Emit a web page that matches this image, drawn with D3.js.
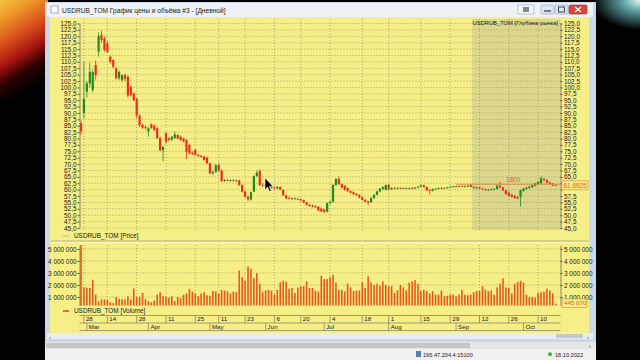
<!DOCTYPE html>
<html>
<head>
<meta charset="utf-8">
<script src="https://cdn.jsdelivr.net/npm/d3@7"></script>
<style>
  body { margin: 0; background: #000; }
  svg { display: block; font-family: "Liberation Sans", Arial, sans-serif; }
</style>
</head>
<body>
<svg id="chart" width="640" height="360"></svg>
<script>
// USDRUB_TOM daily candles
const opens = [
  86.0, 90.0, 98.3, 101.6, 99.0, 108.8, 114.0, 120.5, 119.2, 117.2,
  112.0, 110.7, 107.5, 103.6, 102.9, 104.8, 104.2, 100.3, 97.7, 95.5,
  89.0, 85.3, 84.2, 82.8, 85.5, 85.0, 84.0, 80.2, 75.4, 82.0,
  80.0, 79.6, 80.2, 81.4, 80.7, 80.0, 79.4, 77.5, 74.5, 75.5,
  73.6, 73.2, 72.9, 72.5, 70.3, 66.4, 67.0, 69.6, 67.5, 63.4,
  63.8, 63.5, 63.7, 63.4, 63.6, 61.8, 59.2, 57.2, 56.2, 59.2,
  65.3, 67.3, 61.8, 61.6, 61.6, 61.2, 60.8, 60.5, 61.0, 59.9,
  57.8, 56.8, 56.5, 56.6, 56.4, 56.3, 55.9, 55.0, 54.1, 53.8,
  53.5, 53.3, 52.6, 52.2, 51.4, 54.7, 55.3, 61.8, 64.2, 62.2,
  61.5, 60.6, 59.4, 59.0, 58.4, 57.9, 57.0, 56.0, 55.5, 55.0,
  56.7, 58.0, 59.3, 60.2, 59.9, 61.8, 60.1, 60.6, 60.4, 60.7,
  60.5, 60.6, 60.4, 60.6, 60.5, 60.8, 61.2, 61.7, 61.0, 59.8,
  59.6, 60.2, 60.4, 60.6, 60.5, 60.7, 60.9, 61.1, 61.3, 61.2,
  61.4, 61.2, 61.3, 61.8, 61.1, 60.6, 60.9, 60.4, 60.1, 59.9,
  60.0, 60.2, 60.3, 61.5, 60.9, 59.7, 58.8, 58.0, 57.6, 57.0,
  57.2, 59.5, 60.3, 60.6, 61.0, 61.5, 62.1, 62.5, 64.2, 63.8,
  62.8, 62.3, 61.7
];
const highs = [
  87.0, 110.0, 102.5, 109.5, 107.0, 110.5, 121.5, 122.0, 120.0, 118.0,
  112.5, 111.0, 108.0, 106.5, 105.0, 105.5, 104.8, 100.8, 98.0, 96.0,
  89.5, 85.8, 85.0, 84.5, 86.0, 85.5, 84.5, 80.8, 77.0, 82.5,
  80.5, 81.0, 82.7, 81.8, 81.2, 80.3, 79.8, 77.8, 75.0, 76.0,
  74.0, 73.6, 73.2, 73.0, 70.5, 67.3, 70.0, 70.5, 68.0, 64.2,
  64.2, 64.0, 64.1, 63.9, 64.0, 62.1, 59.6, 57.6, 59.2, 65.6,
  67.5, 68.0, 62.5, 62.2, 62.0, 61.5, 61.3, 61.4, 61.3, 60.2,
  58.0, 57.4, 57.0, 57.0, 56.9, 56.5, 56.1, 55.3, 54.5, 54.2,
  53.9, 53.6, 53.0, 52.6, 55.0, 55.8, 62.2, 64.5, 65.2, 62.5,
  61.8, 61.0, 59.7, 59.3, 58.7, 58.2, 57.3, 56.3, 55.7, 57.0,
  58.2, 59.5, 60.6, 61.3, 62.0, 62.3, 61.0, 61.0, 60.9, 61.0,
  60.9, 60.9, 60.8, 61.0, 61.0, 61.4, 62.0, 61.9, 61.2, 60.2,
  60.5, 60.7, 60.9, 61.0, 60.9, 61.1, 61.3, 61.5, 61.6, 61.6,
  61.7, 61.6, 61.8, 62.2, 61.4, 61.2, 61.2, 60.8, 60.5, 60.3,
  60.4, 60.6, 62.0, 63.3, 61.1, 60.0, 59.3, 58.3, 57.9, 57.5,
  60.0, 60.7, 61.0, 61.5, 61.9, 62.6, 63.3, 65.1, 64.6, 64.1,
  63.2, 62.6, 62.0
];
const lows = [
  81.5, 88.0, 96.0, 100.0, 98.0, 103.0, 112.0, 117.5, 114.0, 113.5,
  109.3, 107.5, 103.0, 102.8, 102.0, 102.5, 96.0, 96.5, 94.5, 88.0,
  84.5, 83.8, 83.5, 80.7, 83.8, 83.0, 79.8, 75.0, 71.0, 78.0,
  79.0, 79.0, 79.8, 79.8, 79.2, 78.5, 72.0, 73.8, 73.5, 73.2,
  72.8, 72.5, 71.3, 70.0, 66.0, 65.8, 66.5, 67.0, 63.0, 63.0,
  63.3, 63.1, 63.2, 63.0, 61.5, 59.0, 56.8, 55.6, 55.8, 59.0,
  65.0, 61.5, 61.2, 61.0, 60.8, 60.5, 60.2, 60.2, 59.8, 57.5,
  56.3, 56.2, 56.0, 56.1, 55.9, 55.5, 54.8, 53.8, 53.3, 53.1,
  52.8, 51.6, 51.2, 50.8, 51.0, 54.2, 55.0, 61.5, 61.8, 60.5,
  59.6, 59.2, 58.6, 58.0, 57.6, 56.6, 55.7, 55.0, 54.0, 54.8,
  56.4, 57.8, 59.0, 59.8, 59.7, 59.8, 59.9, 60.2, 60.1, 60.3,
  60.2, 60.2, 60.1, 60.3, 60.2, 60.5, 61.0, 60.8, 59.5, 58.0,
  59.3, 59.9, 60.1, 60.2, 60.2, 60.4, 60.6, 60.8, 60.9, 60.9,
  61.0, 60.9, 61.0, 60.9, 60.4, 60.3, 60.2, 59.8, 59.7, 59.5,
  59.6, 59.8, 60.0, 60.6, 59.4, 58.0, 57.3, 56.9, 56.5, 56.2,
  53.3, 59.2, 60.0, 60.4, 60.8, 61.3, 61.9, 62.3, 63.3, 62.5,
  62.0, 61.4, 61.5
];
const closes = [
  82.8, 95.5, 101.6, 106.1, 106.0, 104.8, 120.0, 118.5, 114.6, 114.0,
  110.0, 108.1, 103.6, 106.1, 104.8, 103.3, 96.8, 97.0, 95.1, 89.0,
  85.3, 84.2, 84.6, 84.0, 84.2, 83.3, 80.2, 75.4, 76.7, 78.8,
  79.4, 80.7, 81.6, 80.1, 79.4, 78.8, 74.8, 74.2, 74.0, 73.6,
  73.2, 72.8, 71.6, 70.3, 66.4, 67.0, 69.6, 67.5, 63.4, 63.8,
  63.5, 63.7, 63.4, 63.6, 61.8, 59.2, 57.2, 56.2, 59.0, 65.3,
  66.6, 61.8, 61.6, 61.8, 61.2, 60.8, 60.5, 61.0, 60.0, 57.8,
  56.6, 56.5, 56.6, 56.4, 56.3, 55.8, 55.0, 54.1, 53.6, 53.3,
  53.1, 51.9, 51.5, 51.3, 54.7, 55.3, 61.8, 64.2, 62.2, 60.8,
  59.9, 59.4, 58.8, 58.2, 57.9, 56.9, 56.0, 55.3, 54.9, 56.7,
  58.0, 59.3, 60.4, 61.0, 61.8, 60.1, 60.6, 60.4, 60.7, 60.5,
  60.6, 60.4, 60.6, 60.5, 60.8, 61.2, 61.7, 61.0, 59.8, 59.6,
  60.2, 60.4, 60.6, 60.5, 60.7, 60.9, 61.1, 61.3, 61.2, 61.4,
  61.2, 61.3, 61.5, 61.1, 60.6, 60.9, 60.4, 60.1, 59.9, 60.0,
  60.2, 60.3, 61.5, 60.9, 59.7, 58.3, 57.6, 57.2, 56.7, 56.5,
  59.8, 60.4, 60.8, 61.2, 61.7, 62.4, 63.1, 64.4, 63.8, 62.8,
  62.3, 61.7, 61.6925
];
const volumes = [
  5330000, 1800000, 1780000, 1750000, 2440000, 1200000, 650000, 800000, 800000, 750000,
  570000, 500000, 1000000, 850000, 820000, 800000, 1050000, 800000, 1700000, 1000000,
  1000000, 1340000, 820000, 650000, 550000, 700000, 1200000, 1400000, 1050000, 1000000,
  950000, 1050000, 650000, 1000000, 900000, 1200000, 1300000, 1670000, 1470000, 1300000,
  1050000, 1300000, 1400000, 1150000, 1100000, 1500000, 1470000, 1300000, 1600000, 1530000,
  1470000, 1300000, 1470000, 1400000, 3200000, 2660000, 2360000, 3540000, 3350000, 2580000,
  3000000, 2100000, 1400000, 1560000, 1600000, 1530000, 1200000, 1600000, 2220000, 2360000,
  2280000, 1700000, 1750000, 1340000, 1800000, 1900000, 1900000, 2300000, 1750000, 1750000,
  1530000, 1450000, 2770000, 2500000, 2500000, 2660000, 2850000, 2200000, 1600000, 1600000,
  1470000, 2100000, 1800000, 1500000, 1550000, 1550000, 2220000, 1750000, 2720000, 2220000,
  2000000, 2100000, 1950000, 2300000, 2000000, 1900000, 1900000, 1340000, 1550000, 2000000,
  1800000, 1550000, 2200000, 2300000, 2400000, 2100000, 1500000, 1600000, 1500000, 1300000,
  1500000, 1200000, 1200000, 1530000, 1050000, 1100000, 1200000, 1200000, 1050000, 1200000,
  1600000, 1200000, 1150000, 1200000, 1400000, 1500000, 1500000, 1900000, 1600000, 1500000,
  1550000, 1200000, 1800000, 2100000, 2550000, 1800000, 1750000, 1300000, 2100000, 2250000,
  2350000, 2200000, 1200000, 1000000, 1000000, 950000, 1350000, 1400000, 1450000, 1700000,
  1550000, 1300000, 445070
];

const priceTicks = [45, 47.5, 50, 52.5, 55, 57.5, 60, 62.5, 65, 67.5, 70, 72.5, 75, 77.5,
  80, 82.5, 85, 87.5, 90, 92.5, 95, 97.5, 100, 102.5, 105, 107.5, 110, 112.5, 115, 117.5,
  120, 122.5, 125];
const volumeTicks = [1000000, 2000000, 3000000, 4000000, 5000000];
const dayLabels = ["28", "14", "28", "11", "25", "11", "23", "6", "20", "4", "18", "1", "15", "29", "12", "26", "10"];
const dayIndex = [1, 9, 19, 29, 39, 47, 56, 66, 75, 85, 96, 105, 116, 126, 136, 146, 156];
const monthLabels = ["Mar", "Apr", "May", "Jun", "Jul", "Aug", "Sep", "Oct"];
const monthIndex = [2, 23, 44, 63, 83, 105, 128, 151];
const lastPrice = 61.6925;
const levelPrice = 62.1, levelLabel = "1800", levelFrom = 128;
const shadeFrom = 134;

const svg = d3.select("#chart");
const defs = svg.append("defs");

// plot geometry
const L = 79.5, R = 560.5;
const pTop = 19, pBot = 230, vTop = 245, vBot = 305.5;

const x = d3.scaleLinear().domain([0, opens.length - 1]).range([81, 555.7]);
const yP = d3.scaleLinear().domain([45, 125]).range([228, 23.5]);
const yV = d3.scaleLinear().domain([0, 5000000]).range([309, 249]);

const fmtPrice = v => d3.format(".1f")(v).replace(".", ",");
const fmtVol = v => d3.format(",")(v).replace(/,/g, " ");

// ---- desktop behind the window
const wall = defs.append("linearGradient").attr("id", "wall")
  .attr("x1", 0).attr("y1", 0).attr("x2", 0.3).attr("y2", 1);
[[0, "#f4c444"], [0.18, "#ee9a2a"], [0.42, "#d8521a"], [0.62, "#a81410"], [0.8, "#2a0000"], [1, "#000"]]
  .forEach(([o, c]) => wall.append("stop").attr("offset", o).attr("stop-color", c));
svg.append("rect").attr("width", 640).attr("height", 360).attr("fill", "#000");
svg.append("rect").attr("x", 0).attr("y", 0).attr("width", 48).attr("height", 100).attr("fill", "url(#wall)");

const corner = defs.append("radialGradient").attr("id", "corner")
  .attr("cx", 1).attr("cy", 0).attr("r", 1);
[[0, "#e8f4f4"], [0.35, "#5fa7a8"], [1, "#000"]]
  .forEach(([o, c]) => corner.append("stop").attr("offset", o).attr("stop-color", c));
svg.append("rect").attr("x", 592).attr("y", 0).attr("width", 48).attr("height", 30).attr("fill", "url(#corner)");

// ---- window frame
svg.append("rect").attr("x", 45).attr("y", 2).attr("width", 551).attr("height", 340).attr("fill", "#c9d9ea");
svg.append("rect").attr("x", 47).attr("y", 3).attr("width", 546).attr("height", 14).attr("fill", "#eef2f6");
svg.append("rect").attr("x", 51).attr("y", 6).attr("width", 7).attr("height", 7).attr("fill", "#fff").attr("stroke", "#6a7f96").attr("stroke-width", 0.6);
svg.append("text").attr("x", 62).attr("y", 12.5).attr("font-size", 6.6).attr("fill", "#1a1a1a")
  .text("USDRUB_TOM График цены и объёма #3 - [Дневной]");

// title buttons
svg.append("rect").attr("x", 518).attr("y", 5).attr("width", 16).attr("height", 9).attr("fill", "#f6f6f6").attr("stroke", "#9aa6b4").attr("stroke-width", 0.6);
svg.append("rect").attr("x", 523).attr("y", 7).attr("width", 6).attr("height", 5).attr("fill", "#7a8796");
svg.append("rect").attr("x", 541).attr("y", 5).attr("width", 13).attr("height", 9).attr("rx", 1.5).attr("fill", "#dde6f0").attr("stroke", "#8a9cb2").attr("stroke-width", 0.6);
svg.append("line").attr("x1", 544).attr("x2", 551).attr("y1", 11).attr("y2", 11).attr("stroke", "#333").attr("stroke-width", 1.2);
svg.append("rect").attr("x", 555).attr("y", 5).attr("width", 13).attr("height", 9).attr("rx", 1.5).attr("fill", "#dde6f0").attr("stroke", "#8a9cb2").attr("stroke-width", 0.6);
svg.append("rect").attr("x", 558.5).attr("y", 7).attr("width", 6).attr("height", 5).attr("fill", "none").attr("stroke", "#333").attr("stroke-width", 0.9);
svg.append("rect").attr("x", 569).attr("y", 5).attr("width", 18).attr("height", 9).attr("rx", 1.5).attr("fill", "#d9473a").attr("stroke", "#8e2a22").attr("stroke-width", 0.6);
svg.append("path").attr("d", "M575,7L581,12M581,7L575,12").attr("stroke", "#fff").attr("stroke-width", 1.2);

// chart background
svg.append("rect").attr("x", 50).attr("y", 17).attr("width", 539).attr("height", 316).attr("fill", "#f6ee86");
svg.append("rect").attr("x", x(shadeFrom) - 1.5).attr("y", pTop).attr("width", R - x(shadeFrom) + 1.5)
  .attr("height", pBot - pTop).attr("fill", "#ddd78c");

// ---- grid
const grid = svg.append("g").attr("stroke", "#8f8c6c").attr("stroke-width", 0.7).attr("stroke-dasharray", "1,2");
grid.selectAll(".hp").data(priceTicks).join("line")
  .attr("x1", L).attr("x2", R).attr("y1", d => yP(d)).attr("y2", d => yP(d));
grid.selectAll(".hv").data(volumeTicks).join("line").attr("class", "hv")
  .attr("x1", L).attr("x2", R).attr("y1", d => yV(d)).attr("y2", d => yV(d));
grid.selectAll(".vp").data(dayIndex).join("line").attr("class", "vp")
  .attr("x1", d => x(d)).attr("x2", d => x(d)).attr("y1", pTop).attr("y2", pBot);
grid.selectAll(".vv").data(dayIndex).join("line").attr("class", "vv")
  .attr("x1", d => x(d)).attr("x2", d => x(d)).attr("y1", vTop).attr("y2", vBot);

// ---- axes
function styleAxis(g) {
  g.selectAll("text").attr("font-size", 6.4).attr("fill", "#1a1a1a").attr("font-family", "Liberation Sans, Arial, sans-serif");
  g.selectAll("line").attr("stroke", "#555");
  g.select(".domain").attr("stroke", "#8a876a");
}
svg.append("g").attr("transform", `translate(${L},0)`)
  .call(d3.axisLeft(yP).tickValues(priceTicks).tickFormat(fmtPrice).tickSize(2).tickPadding(1).tickSizeOuter(0))
  .call(styleAxis);
// right price axis: labels hidden under the last-price box
svg.append("g").attr("transform", `translate(${R},0)`)
  .call(d3.axisRight(yP).tickValues(priceTicks).tickFormat(fmtPrice).tickSize(2).tickPadding(1.5).tickSizeOuter(0))
  .call(styleAxis)
  .call(g => g.selectAll(".tick text").filter(d => Math.abs(yP(d) - yP(lastPrice)) < 7).remove());
const yVAxis = yV.copy().domain([yV.invert(vBot), 5300000]).range([vBot, yV(5300000)]);
svg.append("g").attr("transform", `translate(${L},0)`)
  .call(d3.axisLeft(yVAxis).tickValues(volumeTicks).tickFormat(fmtVol).tickSize(2).tickPadding(1).tickSizeOuter(0))
  .call(styleAxis);
svg.append("g").attr("transform", `translate(${R},0)`)
  .call(d3.axisRight(yVAxis).tickValues(volumeTicks).tickFormat(fmtVol).tickSize(2).tickPadding(1.5).tickSizeOuter(0))
  .call(styleAxis);

// ---- candles
const up = "#1f8c1f", down = "#e5321c";
const candles = svg.append("g");
candles.selectAll("line").data(opens).join("line")
  .attr("x1", (d, i) => x(i)).attr("x2", (d, i) => x(i))
  .attr("y1", (d, i) => yP(highs[i])).attr("y2", (d, i) => yP(lows[i]))
  .attr("stroke", (d, i) => closes[i] >= d ? up : down).attr("stroke-width", 0.8);
candles.selectAll("rect").data(opens).join("rect")
  .attr("x", (d, i) => x(i) - 1.1).attr("width", 2.2)
  .attr("y", (d, i) => yP(Math.max(d, closes[i])))
  .attr("height", (d, i) => Math.max(0.8, Math.abs(yP(d) - yP(closes[i]))))
  .attr("fill", (d, i) => closes[i] >= d ? up : down);

// level line and labels
svg.append("line").attr("x1", x(levelFrom)).attr("x2", R).attr("y1", yP(levelPrice)).attr("y2", yP(levelPrice))
  .attr("stroke", "#d58a4a").attr("stroke-width", 0.9);
svg.append("text").attr("x", 506).attr("y", yP(levelPrice) - 2).attr("font-size", 6.4).attr("fill", "#e0602a").text(levelLabel);
svg.append("rect").attr("x", 562).attr("y", yP(lastPrice) - 4.5).attr("width", 26).attr("height", 9)
  .attr("fill", "#f6ee86").attr("stroke", "#e09050").attr("stroke-width", 0.7);
svg.append("text").attr("x", 563.5).attr("y", yP(lastPrice) + 2.3).attr("font-size", 6.4).attr("fill", "#e0602a")
  .text(d3.format(".4f")(lastPrice).replace(".", ","));
svg.append("text").attr("x", 558).attr("y", 24.5).attr("text-anchor", "end").attr("font-size", 5.8).attr("fill", "#1a1a1a")
  .text("USDRUB_TOM [Глубина рынка]");

// ---- volume bars
svg.append("g").selectAll("rect").data(volumes).join("rect")
  .attr("x", (d, i) => x(i) - 0.8).attr("width", 1.6)
  .attr("y", d => yV(d)).attr("height", d => Math.max(0, vBot - yV(d)))
  .attr("fill", "#e45a1e");
const lastVol = volumes[volumes.length - 1];
svg.append("rect").attr("x", 562).attr("y", 299).attr("width", 25).attr("height", 8.5)
  .attr("fill", "#f6ee86").attr("stroke", "#e09050").attr("stroke-width", 0.7);
svg.append("text").attr("x", 564).attr("y", 305.4).attr("font-size", 6.2).attr("fill", "#e0602a").text(fmtVol(lastVol));

// ---- legends and separator
svg.append("line").attr("x1", 63).attr("x2", 69).attr("y1", 236).attr("y2", 236).attr("stroke", "#d4cb86").attr("stroke-width", 1.5);
svg.append("text").attr("x", 74).attr("y", 238.3).attr("font-size", 6.4).attr("fill", "#1a1a1a").text("USDRUB_TOM [Price]");
svg.append("line").attr("x1", 51).attr("x2", 589).attr("y1", 241).attr("y2", 241).attr("stroke", "#a9a37a").attr("stroke-width", 0.8);
svg.append("line").attr("x1", 51).attr("x2", 589).attr("y1", 242.6).attr("y2", 242.6).attr("stroke", "#fffbd0").attr("stroke-width", 0.8);
svg.append("line").attr("x1", 63).attr("x2", 69).attr("y1", 311).attr("y2", 311).attr("stroke", "#d8501c").attr("stroke-width", 1.6);
svg.append("text").attr("x", 74).attr("y", 313.3).attr("font-size", 6.4).attr("fill", "#1a1a1a").text("USDRUB_TOM [Volume]");

// ---- date axis
const dAx = svg.append("g").attr("stroke", "#7d7a62").attr("stroke-width", 0.7);
dAx.append("line").attr("x1", L).attr("x2", R).attr("y1", 315.5).attr("y2", 315.5);
dAx.append("line").attr("x1", L).attr("x2", R).attr("y1", 323).attr("y2", 323);
dAx.append("line").attr("x1", L).attr("x2", R).attr("y1", 330.5).attr("y2", 330.5);
dAx.selectAll(".dt").data(dayIndex).join("line").attr("class", "dt")
  .attr("x1", d => x(d)).attr("x2", d => x(d)).attr("y1", 315.5).attr("y2", 323);
dAx.selectAll(".mt").data(monthIndex).join("line").attr("class", "mt")
  .attr("x1", d => x(d)).attr("x2", d => x(d)).attr("y1", 323).attr("y2", 330.5);
svg.append("g").selectAll("text").data(dayLabels).join("text")
  .attr("x", (d, i) => x(dayIndex[i]) + 2).attr("y", 321.3).attr("font-size", 6.2).attr("fill", "#1a1a1a").text(d => d);
svg.append("g").selectAll("text").data(monthLabels).join("text")
  .attr("x", (d, i) => x(monthIndex[i]) + 2).attr("y", 328.8).attr("font-size", 6.2).attr("fill", "#1a1a1a").text(d => d);

// mouse cursor
svg.append("path").attr("d", "M265,178L265,189.5L267.6,187L269.6,191.4L271.2,190.7L269.3,186.4L272.8,186.2Z")
  .attr("fill", "#000").attr("stroke", "#fff").attr("stroke-width", 0.5);

// ---- scrollbars and status bar
svg.append("rect").attr("x", 47).attr("y", 333).attr("width", 546).attr("height", 6).attr("fill", "#e9edf1");
svg.append("rect").attr("x", 556).attr("y", 334).attr("width", 27).attr("height", 4).attr("fill", "#c4c8cc");
svg.append("text").attr("x", 49).attr("y", 338.5).attr("font-size", 5.5).attr("fill", "#444").text("‹");
svg.append("text").attr("x", 587).attr("y", 338.5).attr("font-size", 5.5).attr("fill", "#444").text("›");
svg.append("rect").attr("x", 45).attr("y", 342).attr("width", 551).attr("height", 7).attr("fill", "#e6e6e6");
svg.append("rect").attr("x", 46).attr("y", 343).attr("width", 424).attr("height", 5).attr("fill", "#c6c6c6");
svg.append("text").attr("x", 589).attr("y", 348).attr("font-size", 5.5).attr("fill", "#444").text("›");
svg.append("rect").attr("x", 45).attr("y", 349).attr("width", 551).attr("height", 11).attr("fill", "#f0f0f0");
svg.append("rect").attr("x", 416).attr("y", 351).attr("width", 5).attr("height", 6).attr("fill", "#5a7ea8");
svg.append("text").attr("x", 423).attr("y", 356.5).attr("font-size", 5.6).attr("fill", "#222").text("195.47.204.4:15100");
svg.append("circle").attr("cx", 550).attr("cy", 354.3).attr("r", 2).attr("fill", "#3cb43c");
svg.append("text").attr("x", 555).attr("y", 356.5).attr("font-size", 5.6).attr("fill", "#222").text("18.10.2022");
</script>
</body>
</html>
